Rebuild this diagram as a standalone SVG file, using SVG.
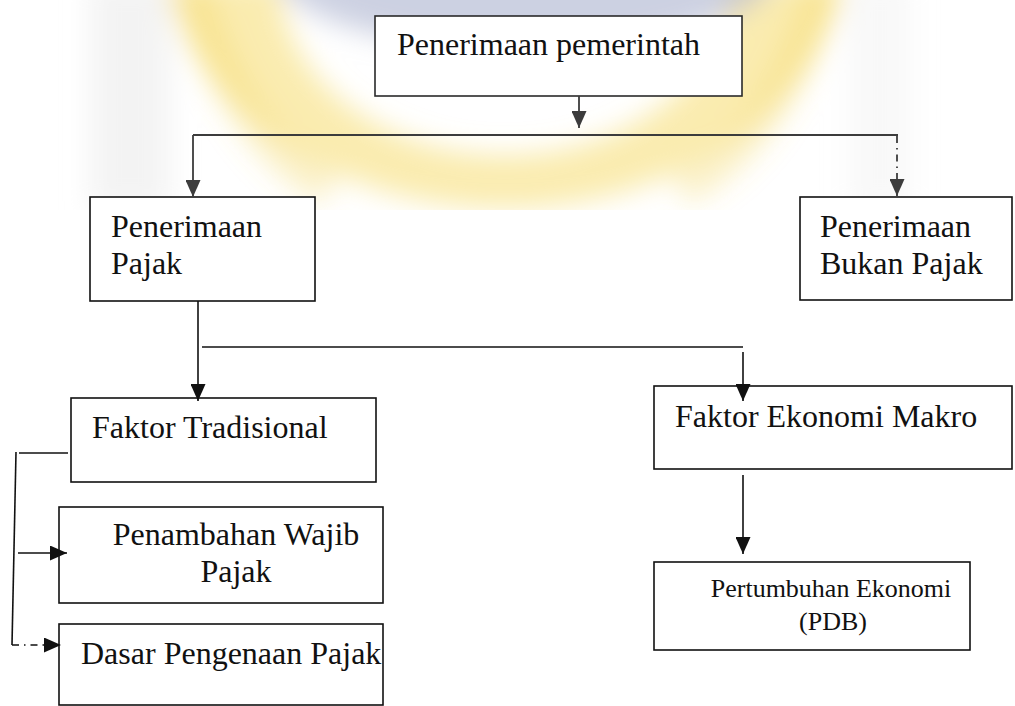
<svg xmlns="http://www.w3.org/2000/svg" width="1015" height="706" viewBox="0 0 1015 706">
<style>
.box{fill:#fff;stroke:#111;stroke-width:1.6}
.t{font-family:"Liberation Serif","Times New Roman",serif;font-size:32px;fill:#111}
.ln{fill:none;stroke:#111;stroke-width:1.6}
.up{fill:none;stroke:#3c3c3c;stroke-width:1.8}
.dd{stroke-dasharray:7 5 1.5 5}
</style>
<defs>
<marker id="arr" viewBox="0 0 17 15" refX="17" refY="7.5" markerWidth="17" markerHeight="15" markerUnits="userSpaceOnUse" orient="auto">
<path d="M0,0 L17,7.5 L0,15 Z" fill="#111"/>
</marker>
<marker id="arrg" viewBox="0 0 17 15" refX="17" refY="7.5" markerWidth="17" markerHeight="15" markerUnits="userSpaceOnUse" orient="auto">
<path d="M0,0 L17,7.5 L0,15 Z" fill="#3c3c3c"/>
</marker>
<filter id="blur" x="-20%" y="-50%" width="140%" height="200%"><feGaussianBlur stdDeviation="14"/></filter>
<clipPath id="wmclip"><rect x="0" y="0" width="1015" height="210"/></clipPath>
</defs>
<g id="watermark" clip-path="url(#wmclip)">
<g filter="url(#blur)">
<path d="M165,-20 A345,275 0 0 0 845,-20 L730,-20 A225,175 0 0 1 280,-20 Z" fill="#f7df7a" opacity="0.6"/>
<path d="M190,-20 Q235,140 330,190" stroke="#f3d04c" stroke-width="34" fill="none" opacity="0.3"/>
<path d="M825,-20 Q780,140 680,190" stroke="#f3d04c" stroke-width="34" fill="none" opacity="0.3"/>
<ellipse cx="525" cy="-30" rx="250" ry="80" fill="#aab3cf" opacity="0.6"/>
<rect x="90" y="-20" width="80" height="230" fill="#e4e4e4" opacity="0.45"/>
<rect x="850" y="-20" width="60" height="230" fill="#ececec" opacity="0.35"/>
</g>
</g>
<g id="n-pemerintah">
<rect class="box" x="375" y="16" width="367" height="80" style="stroke:#2a2a2a"/>
<text class="t" x="397" y="55">Penerimaan pemerintah</text>
</g>
<g id="n-pajak">
<rect class="box" x="90" y="197" width="225" height="104"/>
<text class="t" x="111" y="237">Penerimaan</text>
<text class="t" x="111" y="274">Pajak</text>
</g>
<g id="n-bukanpajak">
<rect class="box" x="800" y="197" width="212" height="103"/>
<text class="t" x="820" y="237">Penerimaan</text>
<text class="t" x="820" y="274">Bukan Pajak</text>
</g>
<g id="n-tradisional">
<rect class="box" x="71" y="398" width="305" height="84"/>
<text class="t" x="92" y="438">Faktor Tradisional</text>
</g>
<g id="n-makro">
<rect class="box" x="654" y="386" width="358" height="83"/>
<text class="t" x="675" y="427">Faktor Ekonomi Makro</text>
</g>
<g id="n-wajibpajak">
<rect class="box" x="59" y="507" width="324" height="96"/>
<text class="t" x="236" y="545" text-anchor="middle">Penambahan Wajib</text>
<text class="t" x="236" y="582" text-anchor="middle">Pajak</text>
</g>
<g id="n-dasar">
<rect class="box" x="59" y="624" width="324" height="81"/>
<text class="t" x="81" y="664">Dasar Pengenaan Pajak</text>
</g>
<g id="n-pdb">
<rect class="box" x="654" y="562" width="316" height="88"/>
<text class="t" x="831" y="597" text-anchor="middle" style="font-size:26px">Pertumbuhan Ekonomi</text>
<text class="t" x="833" y="630" text-anchor="middle" style="font-size:26px">(PDB)</text>
</g>
<g id="connectors">
<line class="up" x1="579" y1="96" x2="579" y2="128" marker-end="url(#arrg)"/>
<line class="up" x1="193" y1="135" x2="898" y2="135"/>
<line class="up" x1="193" y1="135" x2="193" y2="197" marker-end="url(#arrg)"/>
<line class="up dd" x1="897" y1="136" x2="897" y2="196" marker-end="url(#arrg)"/>
<line class="ln" x1="198" y1="301" x2="198" y2="401" marker-end="url(#arr)"/>
<polyline class="ln" points="202,347 743,347"/>
<line class="ln" x1="743" y1="352" x2="743" y2="401" marker-end="url(#arr)"/>
<line class="ln" x1="743" y1="475" x2="743" y2="554" marker-end="url(#arr)"/>
<line class="ln" x1="19" y1="453" x2="68" y2="453"/>
<line class="ln" x1="16" y1="452" x2="12" y2="645"/>
<line class="ln" x1="18" y1="553" x2="67" y2="553" marker-end="url(#arr)"/>
<line class="ln dd" x1="12" y1="645" x2="61" y2="645" marker-end="url(#arr)"/>
</g>
</svg>
